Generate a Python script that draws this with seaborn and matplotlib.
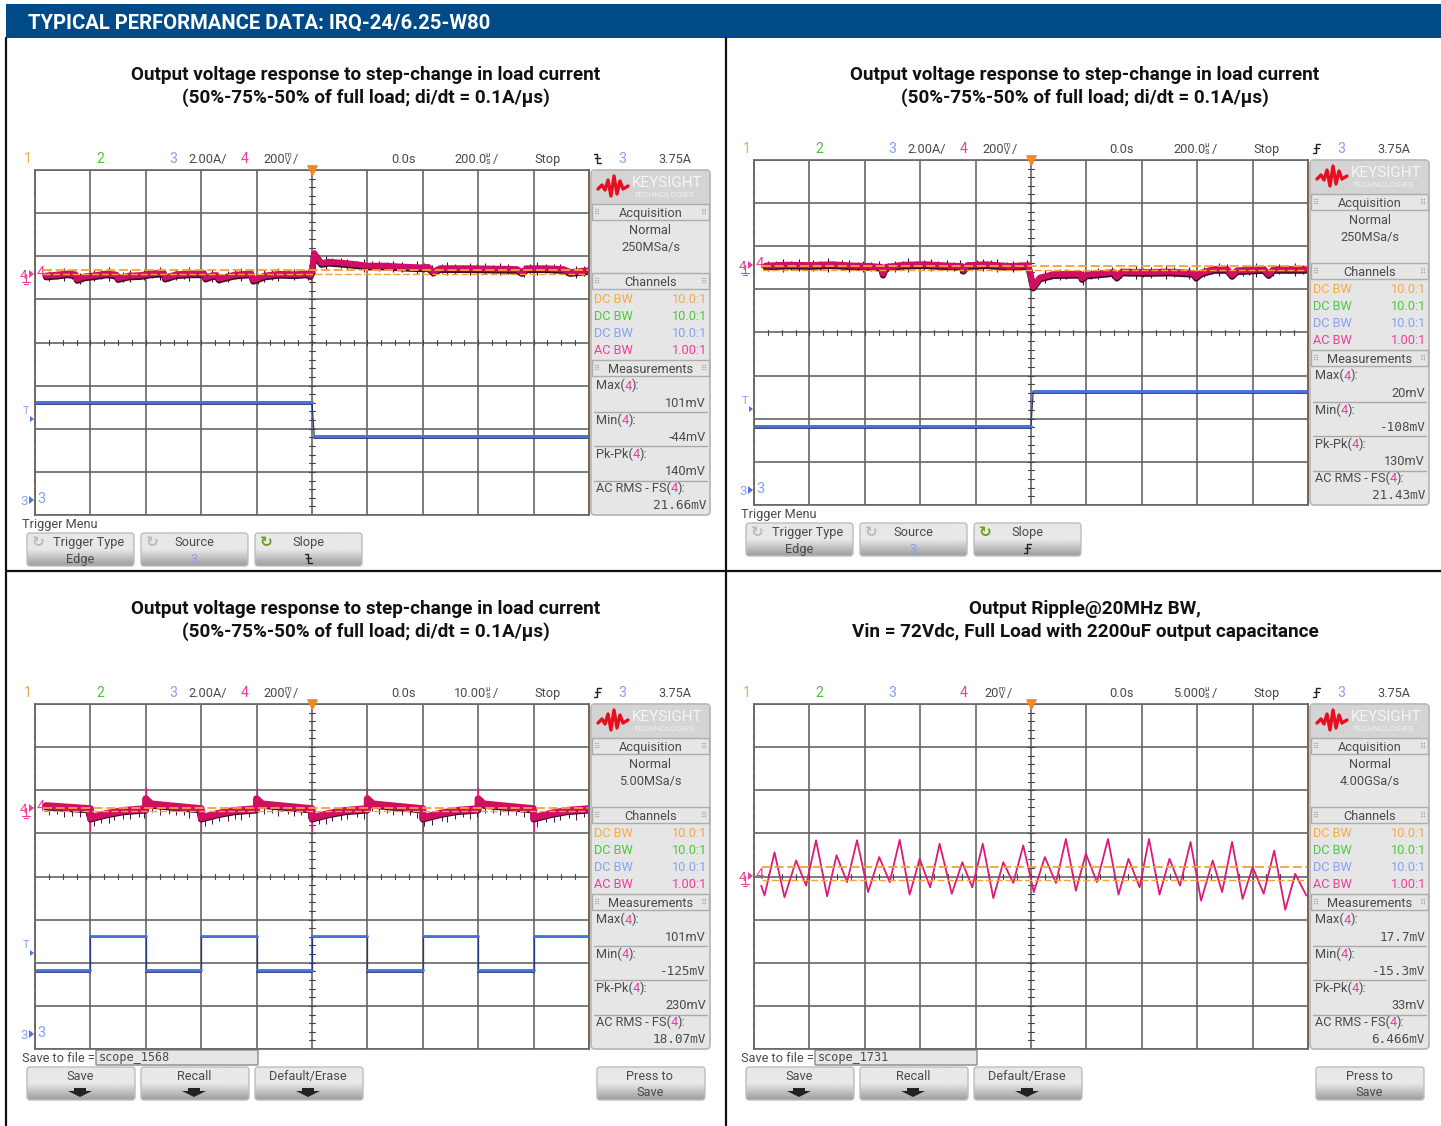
import matplotlib
matplotlib.use("Agg")
import matplotlib.pyplot as plt
import numpy as np
import seaborn as sns
from matplotlib.patches import FancyBboxPatch, Rectangle, Polygon

ch4_t1 = [-4.8,-4.6,-4.42,-4.27,-4.24,-4.1,-3.9,-3.7,-3.53,-3.5,-3.3,-3.1,-2.9,-2.68,-2.65,-2.45,-2.2,-1.95,-1.92,-1.8,-1.72,-1.68,-1.4,-1.1,-1.06,-0.85,-0.6,-0.3,-0.1,-0.03,
          0.0,0.04,0.17,0.3,0.51,0.75,0.99,1.3,1.59,1.95,2.1,2.19,2.31,2.8,3.3,3.7,3.79,3.88,4.2,4.54,4.66,4.96]
ch4_y1 = [1.55,1.57,1.6,1.58,1.47,1.53,1.56,1.6,1.57,1.49,1.55,1.56,1.6,1.62,1.5,1.58,1.6,1.6,1.5,1.56,1.56,1.48,1.57,1.6,1.45,1.55,1.59,1.58,1.6,1.56,
          1.64,2.07,1.84,1.87,1.85,1.82,1.78,1.78,1.76,1.74,1.75,1.64,1.72,1.72,1.71,1.70,1.63,1.72,1.72,1.70,1.63,1.67]
ch3_t1 = [-5,0,0.04,5]
ch3_y1 = [-1.38,-1.38,-2.17,-2.17]

ch4_t2 = [-4.79,-4.4,-4.0,-3.6,-3.2,-2.9,-2.7,-2.67,-2.62,-2.3,-1.9,-1.5,-1.25,-1.22,-1.15,-0.8,-0.4,-0.05,
          0.0,0.04,0.16,0.4,0.89,0.92,1.0,1.49,1.55,1.64,2.1,2.51,2.93,2.98,3.08,3.3,3.54,3.63,3.72,4.2,4.29,4.38,4.95]
ch4_y2 = [1.55,1.57,1.56,1.58,1.55,1.54,1.52,1.36,1.52,1.57,1.58,1.55,1.54,1.45,1.56,1.58,1.54,1.56,
          1.3,1.06,1.27,1.35,1.36,1.26,1.34,1.40,1.29,1.41,1.40,1.41,1.38,1.29,1.39,1.47,1.47,1.33,1.44,1.47,1.35,1.47,1.47]
ch3_t2 = [-5,0,0.04,5]
ch3_y2 = [-2.17,-2.17,-1.36,-1.36]

ch4_t3 = [-4.8,-4.0,-4.0,-3.7,-3.4,-3.0,-3.0,-2.9,-2.5,-2.0,-2.0,-1.7,-1.4,-1.0,-1.0,-0.9,-0.5,0.0,0.0,0.3,0.6,1.0,1.0,1.1,1.5,2.0,2.0,2.3,2.6,3.0,3.0,3.1,3.5,4.0,4.0,4.3,4.6,5.0]
ch4_y3 = [1.64,1.57,1.36,1.46,1.53,1.57,1.8,1.68,1.63,1.57,1.36,1.46,1.53,1.57,1.8,1.68,1.63,1.57,1.36,1.46,1.53,1.57,1.8,1.68,1.63,1.57,1.36,1.46,1.53,1.57,1.8,1.68,1.63,1.57,1.36,1.46,1.53,1.57]
ch3_t3 = [-5,-4,-4,-3,-3,-2,-2,-1,-1,0,0,1,1,2,2,3,3,4,4,5]
ch3_y3 = [-2.17,-2.17,-1.37,-1.37,-2.17,-2.17,-1.37,-1.37,-2.17,-2.17,-1.37,-1.37,-2.17,-2.17,-1.37,-1.37,-2.17,-2.17,-1.37,-1.37]
spike_t3 = [-4.0,-3.0,-2.0,-1.0,0.0,1.0,2.0,3.0,4.0]
spike_lo3 = [1.06,1.5,1.06,1.5,1.06,1.5,1.06,1.5,1.06]
spike_hi3 = [1.5,2.07,1.5,2.07,1.5,2.07,1.5,2.07,1.5]

ch4_t4 = [-4.87,-4.81,-4.63,-4.45,-4.24,-4.06,-3.88,-3.68,-3.51,-3.32,-3.14,-2.94,-2.74,-2.55,-2.37,-2.19,-2.01,-1.82,-1.65,-1.43,-1.24,-1.06,-0.87,-0.68,-0.50,-0.32,-0.14,0.05,
          0.25,0.45,0.63,0.81,0.99,1.19,1.39,1.58,1.76,1.96,2.13,2.32,2.50,2.69,2.88,3.07,3.28,3.45,3.63,3.82,4.0,4.2,4.39,4.59,4.77,4.97]
ch4_y4 = [-0.21,-0.44,0.56,-0.48,0.37,-0.21,0.84,-0.46,0.49,-0.13,0.84,-0.36,0.45,-0.13,0.85,-0.42,0.41,-0.25,0.76,-0.40,0.33,-0.25,0.76,-0.50,0.33,-0.15,0.72,-0.36,
          0.45,-0.15,0.87,-0.33,0.53,-0.13,0.87,-0.42,0.41,-0.25,0.87,-0.42,0.41,-0.21,0.80,-0.56,0.37,-0.36,0.80,-0.52,0.22,-0.40,0.60,-0.77,0.06,-0.44]

# dark noise specks on the thick traces: where they sit and how far they reach
speck_t = [-4.74,-4.61,-4.47,-4.33,-4.19,-4.08,-3.93,-3.81,-3.66,-3.57,-3.41,-3.28,-3.12,-3.03,-2.88,-2.74,-2.59,-2.46,-2.31,-2.22,-2.07,-1.94,-1.81,-1.67,-1.52,-1.39,-1.28,-1.13,-0.98,-0.86,-0.72,-0.61,-0.44,-0.33,-0.19,-0.07,
           0.12,0.26,0.37,0.52,0.64,0.81,0.93,1.08,1.21,1.36,1.47,1.62,1.77,1.89,2.03,2.16,2.34,2.43,2.58,2.72,2.86,2.97,3.13,3.26,3.39,3.54,3.68,3.82,3.93,4.07,4.22,4.36,4.48,4.63,4.77,4.91]
speck_d = [0.11,0.09,0.14,0.1,0.13,0.08,0.12,0.1,0.15,0.09,0.11,0.13,0.08,0.12,0.1,0.14,0.09,0.12,0.1,0.15,0.08,0.11,0.13,0.09,0.12,0.1,0.14,0.08,0.11,0.13,0.1,0.15,0.09,0.12,0.08,0.13,
           0.1,0.14,0.09,0.12,0.11,0.08,0.15,0.1,0.12,0.09,0.13,0.11,0.08,0.14,0.1,0.12,0.09,0.15,0.11,0.08,0.13,0.1,0.12,0.09,0.14,0.11,0.08,0.13,0.1,0.15,0.09,0.12,0.11,0.08,0.14,0.1]

levels = [[1.68,1.59],[1.55,1.44],[1.6,1.51],[0.23,-0.07]]

titles = [["Output voltage response to step-change in load current","(50%-75%-50% of full load; di/dt = 0.1A/µs)"],
          ["Output voltage response to step-change in load current","(50%-75%-50% of full load; di/dt = 0.1A/µs)"],
          ["Output voltage response to step-change in load current","(50%-75%-50% of full load; di/dt = 0.1A/µs)"],
          ["Output Ripple@20MHz BW,","Vin = 72Vdc, Full Load with 2200uF output capacitance"]]
rates = ["250MSa/s","250MSa/s","5.00MSa/s","4.00GSa/s"]
timebase = ["200.0","200.0","10.00","5.000"]
max_v = ["101mV","20mV","101mV","17.7mV"]
min_v = ["-44mV","-108mV","-125mV","-15.3mV"]
pkpk_v = ["140mV","130mV","230mV","33mV"]
rms_v = ["21.66mV","21.43mV","18.07mV","6.466mV"]
files = [None,None,"scope_1568","scope_1731"]

NARROW = ["Roboto"]
GRID = "#666666"; TXT = "#4a4a4a"
ORANGE = "#f5a94e"; GREEN = "#4ec83a"; BLUE3 = "#86a2f2"; PINK = "#f23c9c"; CRIM = "#d10f62"
FS = 9.2

sns.set_theme(style="white")
plt.rcParams["font.family"] = NARROW

fig = plt.figure(figsize=(14.41,11.26),dpi=100,facecolor="white")
page = fig.add_axes([0,0,1,1],zorder=1)
page.set_xlim(0,1441); page.set_ylim(1126,0); page.axis("off")
renderer = fig.canvas.get_renderer()

def txt(x,y,s,size=FS,color=TXT,ha="left",**kw):
    # y is the middle of the capitals, so that mixed labels stay on one line
    return page.text(x,y+0.49*size,s,fontsize=size,color=color,ha=ha,va="baseline",**kw)

def run(x,y,parts,size=FS):
    # pieces of one label in different colours, one after the other
    for s,c in parts:
        t = txt(x,y,s,size,c)
        x += t.get_window_extent(renderer).width
    return x

def stacked(x,y,top,bot,color=TXT):
    # squeezed unit glyph of the scope font
    page.text(x,y-3,top,fontsize=5.5,color=color,ha="center",va="center")
    page.text(x,y+3,bot,fontsize=6.5,color=color,ha="center",va="center")

def slope(x,y,falling,z=3):
    a,b = (y-4.5,y+4.5) if falling else (y+4.5,y-4.5)
    page.plot([x-3.5,x,x,x+3.5],[a,a,b,b],color="#222222",lw=1,zorder=z)
    page.plot([x-2.5,x+2.5],[y,y],color="#222222",lw=1,zorder=z)

def button(x0,y0,w,h):
    p = FancyBboxPatch((x0+3,y0+3),w-6,h-6,boxstyle="round,pad=3",fc="none",ec="#bdbdbd",lw=1,zorder=3)
    page.add_patch(p)
    grad = np.concatenate([np.full(14,0.91),np.linspace(0.91,0.62,16)]).reshape(-1,1)
    im = page.imshow(grad,extent=(x0,x0+w,y0+h,y0),cmap="gray",vmin=0,vmax=1,aspect="auto",zorder=2)
    im.set_clip_path(p)

def down_arrow(x,y):
    page.add_patch(Polygon([[x-6,y-5],[x+6,y-5],[x+6,y-2],[x+12,y-2],[x,y+4],[x-12,y-2],[x-6,y-2]],fc="#222222",ec="none",zorder=4))

def grips(x,y):
    page.text(x,y,"⠿",fontsize=6,color="#9a9a9a",ha="center",va="center",family="DejaVu Sans",zorder=5)

def sidebar(left,top,i):
    x0 = left+556; x1 = left+675; xc = (x0+x1)/2
    page.add_patch(FancyBboxPatch((x0+4,top+4),x1-x0-8,337,boxstyle="round,pad=4",fc="#e6e6e6",ec="#b4b4b4",lw=1.2))
    page.add_patch(Rectangle((x0+1,top+1),x1-x0-2,33,fc="#d4d4d4",ec="none"))
    wave_x = [7,11,14,17,20,23,26,29,32,37]
    wave_y = [19,15,20,10,26,6,24,11,19,16]
    page.plot([x0+v for v in wave_x],[top+v for v in wave_y],color="#e5101f",lw=2.4,solid_joinstyle="round")
    txt(x0+41,top+12,"KEYSIGHT",11,"#f6f6f6")
    txt(x0+43,top+24,"TECHNOLOGIES",6,"#f0f0f0")
    for y,s in [(top+42,"Acquisition"),(top+111,"Channels"),(top+198,"Measurements")]:
        page.add_patch(Rectangle((x0+1,y-8),x1-x0-2,16,fc="#e6e6e6",ec="#adadad",lw=1,zorder=2))
        txt(xc,y,s,FS,ha="center",zorder=3)
        grips(x0+6,y); grips(x1-6,y)
    txt(xc,top+59,"Normal",FS,ha="center")
    txt(xc,top+76,rates[i],FS,ha="center")
    for k,(c,s,r) in enumerate([(ORANGE,"DC BW","10.0:1"),(GREEN,"DC BW","10.0:1"),(BLUE3,"DC BW","10.0:1"),(PINK,"AC BW","1.00:1")]):
        y = top+128+k*17.3
        txt(x0+3,y,s,FS,c)
        txt(x1-3,y,r,FS,c,ha="right")
    rows = [("Max(",max_v[i]),("Min(",min_v[i]),("Pk-Pk(",pkpk_v[i]),("AC RMS - FS(",rms_v[i])]
    for k,(s,v) in enumerate(rows):
        y = top+215+k*34.3
        run(x0+5,y,[(s,TXT),("4",PINK),("):",TXT)])
        mono = len(v)>=6
        txt(x1-4,y+17,v,9.2 if mono else FS,ha="right",family="DejaVu Sans Mono" if mono else NARROW)
        if k<3:
            page.plot([x0+3,x1-3],[y+27,y+27],color="#a8a8a8",lw=1)

def header(left,top,i,falling):
    y = top-12
    txt(left-11,y,"1",FS+1,ORANGE)
    txt(left+61,y,"2",FS+1,GREEN)
    txt(left+134,y,"3",FS+1,BLUE3)
    if i<3:
        txt(left+153,y,"2.00A/",FS)
        txt(left+206,y,"4",FS+1,PINK)
        txt(left+228,y,"200",FS)
        stacked(left+253,y,"m","V")
        txt(left+258,y,"/",FS)
    else:
        txt(left+206,y,"4",FS+1,PINK)
        txt(left+230,y,"20",FS)
        stacked(left+248,y,"m","V")
        txt(left+253,y,"/",FS)
    txt(left+368,y,"0.0s",FS,ha="center")
    txt(left+419,y,timebase[i],FS)
    stacked(left+453,y,"µ","s")
    txt(left+458,y,"/",FS)
    txt(left+499,y,"Stop",FS)
    slope(left+562,y,falling)
    txt(left+583,y,"3",FS+1,BLUE3)
    txt(left+623,y,"3.75A",FS)

def markers(left,top):
    # channel reference marks left of the graticule
    ry = top+104 if left==35 else top+105
    if top==704 and left==754:
        ry = top+172
    txt(left-15,ry,"4",9.5,PINK)
    page.add_patch(Polygon([[left-6,ry-4],[left-1,ry],[left-6,ry+4]],fc=PINK,ec="none"))
    page.plot([left-9,left-9],[ry,ry+8],color=PINK,lw=0.8)
    page.plot([left-13,left-5],[ry+8,ry+8],color=PINK,lw=0.8)
    page.plot([left-11,left-7],[ry+10,ry+10],color=PINK,lw=0.8)
    txt(left+2,ry-2,"4",10.5,PINK)
    if not (top==704 and left==754):
        by = top+330
        txt(left-15,by,"3",9.5,BLUE3)
        page.add_patch(Polygon([[left-6,by-4],[left-1,by],[left-6,by+4]],fc="#4f74e0",ec="none"))
        txt(left+2,by-2,"3",10.5,BLUE3)
        txt(left-9,top+240,"T",8,BLUE3,ha="center")
        page.add_patch(Polygon([[left-5,top+246],[left-1,top+249],[left-5,top+252]],fc="#4f74e0",ec="none"))

def menu(left,top,i,falling):
    y = top+363
    xs = [left-8,left+106,left+220]
    if files[i] is None:
        txt(left-13,top+353,"Trigger Menu",FS)
        for x in xs:
            button(x,y,107,33)
        txt(xs[0]+62,y+8,"Trigger Type",FS,ha="center",zorder=5)
        txt(xs[0]+53,y+25,"Edge",FS,ha="center",zorder=5)
        txt(xs[1]+53,y+8,"Source",FS,ha="center",zorder=5)
        txt(xs[1]+53,y+25,"3",FS,BLUE3,ha="center",zorder=5)
        txt(xs[2]+53,y+8,"Slope",FS,ha="center",zorder=5)
        for x,c in [(xs[0]+11,"#bbbbbb"),(xs[1]+11,"#bbbbbb"),(xs[2]+11,"#6aa312")]:
            page.text(x,y+9,"↻",fontsize=11,color=c,ha="center",va="center",family="DejaVu Sans",zorder=5,weight="bold")
        slope(xs[2]+53,y+25,falling,z=5)
    else:
        txt(left-13,top+353,"Save to file =",FS)
        page.add_patch(FancyBboxPatch((left+62,top+347),160,13,boxstyle="round,pad=1",fc="#e6e6e6",ec="#8a8a8a",lw=1))
        txt(left+64,top+353,files[i],8.5,family="DejaVu Sans Mono")
        for x in xs+[left+562]:
            button(x,y,108,33)
        for x,s in zip(xs,["Save","Recall","Default/Erase"]):
            txt(x+53,y+8,s,FS,ha="center",zorder=5)
            down_arrow(x+53,y+26)
        txt(left+615,y+8,"Press to",FS,ha="center",zorder=5)
        txt(left+615,y+24,"Save",FS,ha="center",zorder=5)

def scope_axes(left,top):
    ax = fig.add_axes([left/1441,1-(top+345)/1126,554/1441,345/1126],zorder=2)
    ax.set_xlim(-5,5); ax.set_ylim(-4,4)
    ax.set_facecolor("none")
    ax.set_xticks(range(-5,6)); ax.set_yticks(range(-4,5))
    ax.set_xticklabels([]); ax.set_yticklabels([])
    ax.tick_params(length=0)
    ax.grid(True,color=GRID,lw=1.2)
    for s in ax.spines.values():
        s.set_color(GRID); s.set_linewidth(1.2)
    for v in np.arange(-5,5.01,0.25):
        ax.plot([v,v],[-0.05,0.05],color="#444444",lw=0.8)
    for v in np.arange(-4,4.01,0.2):
        ax.plot([-0.05,0.05],[v,v],color="#444444",lw=0.8)
    ax.axvline(-5,color="#c8660f",lw=1.3,ls=(0,(4,1.5)),clip_on=False)
    ax.axvline(5,color="#c8660f",lw=1.3,clip_on=False)
    return ax

def draw(ax,t,y,color,lw):
    sns.lineplot(x=t,y=y,ax=ax,color=color,lw=lw,estimator=None,sort=False,legend=False)

# page furniture
page.add_patch(Rectangle((6,4),1435,34,fc="#004b87",ec="none"))
txt(28,21,"TYPICAL PERFORMANCE DATA: IRQ-24/6.25-W80",14.6,"white",weight="bold")
page.plot([6,6],[38,1126],color="#111111",lw=1.6)
page.plot([726,726],[38,1126],color="#111111",lw=1.6)
page.plot([6,1441],[571,571],color="#111111",lw=1.6)

panels = [(35,170,True),(754,160,False),(35,704,False),(754,704,False)]
centers = [366,1085,366,1085]
title_y = [73,73,607,607]
traces = [(ch4_t1,ch4_y1,ch3_t1,ch3_y1),(ch4_t2,ch4_y2,ch3_t2,ch3_y2),(ch4_t3,ch4_y3,ch3_t3,ch3_y3),(ch4_t4,ch4_y4,None,None)]

for i,(left,top,falling) in enumerate(panels):
    txt(centers[i],title_y[i],titles[i][0],13.6,"#111111",ha="center",weight="bold")
    txt(centers[i],title_y[i]+23,titles[i][1],13.6,"#111111",ha="center",weight="bold")
    header(left,top,i,falling)
    sidebar(left,top,i)
    markers(left,top)
    menu(left,top,i,falling)
    ax = scope_axes(left,top)
    t4,y4,t3,y3 = traces[i]
    if t3 is not None:
        draw(ax,t3,y3,"#27377f",0.9)
        for k in range(0,len(t3),2):
            draw(ax,t3[k:k+2],[v-0.035 for v in y3[k:k+2]],"#1c2a66",1.2)
            draw(ax,t3[k:k+2],y3[k:k+2],"#4a72e0",2.0)
    if i==3:
        draw(ax,t4,y4,"#dc1a78",1.3)
    else:
        if i==2:
            ax.vlines(spike_t3,spike_lo3,spike_hi3,color="#dc1a78",lw=0.9)
        base = np.interp(speck_t,t4,y4)
        reach = np.array(speck_d)
        if i==2:
            ax.vlines(speck_t,base-reach*0.9-0.1,base,color="#4a1030",lw=0.7)
        else:
            ax.vlines(speck_t,base-reach*1.1,base+reach,color="#3a0c24",lw=0.8)
        draw(ax,t4,[v-0.035 for v in y4],"#3a0c24",4.6)
        draw(ax,t4,y4,CRIM,4.4 if i<2 else 5.2)
    for lv,lw in zip(levels[i],[1.3,1.0]):
        ax.hlines(lv,-4.85,5,color="#f7a03c",lw=lw,ls=(0,(5,2)))
    ax.scatter([0],[4],marker="v",s=45,color="#f0891e",clip_on=False,zorder=6)

fig.savefig("out.png",dpi=100)
